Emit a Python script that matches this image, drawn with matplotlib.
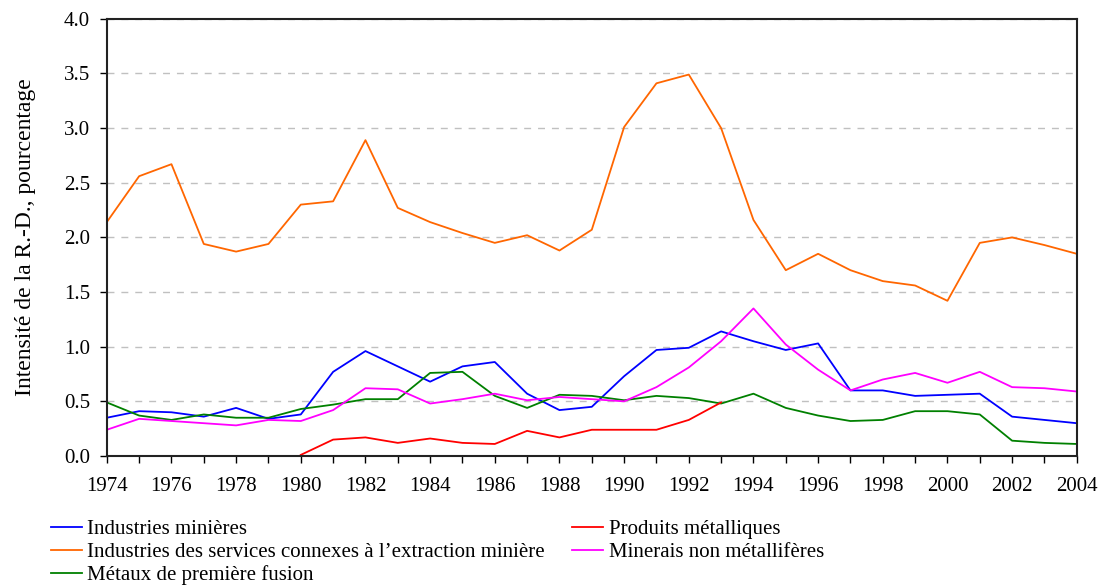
import numpy as np
import matplotlib.pyplot as plt

plt.rcParams['font.family'] = ['Liberation Serif', 'DejaVu Serif']

years = list(range(1974, 2005))

mines = [0.35, 0.41, 0.40, 0.36, 0.44, 0.34, 0.38, 0.77, 0.96, 0.82, 0.68, 0.82, 0.86,
         0.57, 0.42, 0.45, 0.73, 0.97, 0.99, 1.14, 1.05, 0.97, 1.03, 0.60, 0.60, 0.55,
         0.56, 0.57, 0.36, 0.33, 0.30]
services = [2.14, 2.56, 2.67, 1.94, 1.87, 1.94, 2.30, 2.33, 2.89, 2.27, 2.14, 2.04, 1.95,
            2.02, 1.88, 2.07, 3.01, 3.41, 3.49, 3.00, 2.16, 1.70, 1.85, 1.70, 1.60, 1.56,
            1.42, 1.95, 2.00, 1.93, 1.85]
metaux = [0.49, 0.37, 0.33, 0.38, 0.35, 0.35, 0.43, 0.47, 0.52, 0.52, 0.76, 0.77, 0.55,
          0.44, 0.56, 0.55, 0.51, 0.55, 0.53, 0.48, 0.57, 0.44, 0.37, 0.32, 0.33, 0.41,
          0.41, 0.38, 0.14, 0.12, 0.11]
produits_years = list(range(1980, 1994))
produits = [0.01, 0.15, 0.17, 0.12, 0.16, 0.12, 0.11, 0.23, 0.17, 0.24, 0.24, 0.24, 0.33, 0.49]
minerais = [0.24, 0.34, 0.32, 0.30, 0.28, 0.33, 0.32, 0.42, 0.62, 0.61, 0.48, 0.52, 0.57,
            0.51, 0.54, 0.52, 0.50, 0.63, 0.81, 1.05, 1.35, 1.02, 0.79, 0.60, 0.70, 0.76,
            0.67, 0.77, 0.63, 0.62, 0.59]

fig = plt.figure(figsize=(11.01, 5.88), dpi=100)
ax = fig.add_axes([0.097, 0.2245, 0.881, 0.7435])

ax.plot(years, mines, color='#0000ff', lw=1.3, label='Industries minières')
ax.plot(years, services, color='#ff6600', lw=1.3,
        label='Industries des services connexes à l\u2019extraction minière')
ax.plot(years, metaux, color='#008000', lw=1.3, label='Métaux de première fusion')
ax.plot(produits_years, produits, color='#ff0000', lw=1.3, label='Produits métalliques')
ax.plot(years, minerais, color='#ff00ff', lw=1.3, label='Minerais non métallifères')

ax.set_xlim(1974, 2004)
ax.set_ylim(0, 4.0)
ax.set_xticks(years, minor=True)
ax.set_xticks(range(1974, 2005, 2))
ax.set_yticks(np.arange(0, 4.01, 0.5))
ax.yaxis.set_major_formatter(plt.FormatStrFormatter('%.1f'))
ax.tick_params(axis='both', which='both', direction='out', labelsize=15, length=5, width=1)
ax.tick_params(axis='x', which='major', pad=10)
ax.tick_params(axis='y', pad=7)
ax.grid(axis='y', linestyle=(0, (5, 5)), color='#c0c0c0', lw=1)
for s in ax.spines.values():
    s.set_linewidth(1.5)
    s.set_color('#222222')

ax.set_ylabel('Intensité de la R.-D., pourcentage', fontsize=17, labelpad=20)

fig.legend(loc='lower left', bbox_to_anchor=(0.033, -0.02), ncol=2, frameon=False,
           fontsize=15, handlelength=1.5, handletextpad=0.25, labelspacing=0.15,
           columnspacing=1.3, borderpad=0.2)

fig.savefig('out.png', dpi=100)
